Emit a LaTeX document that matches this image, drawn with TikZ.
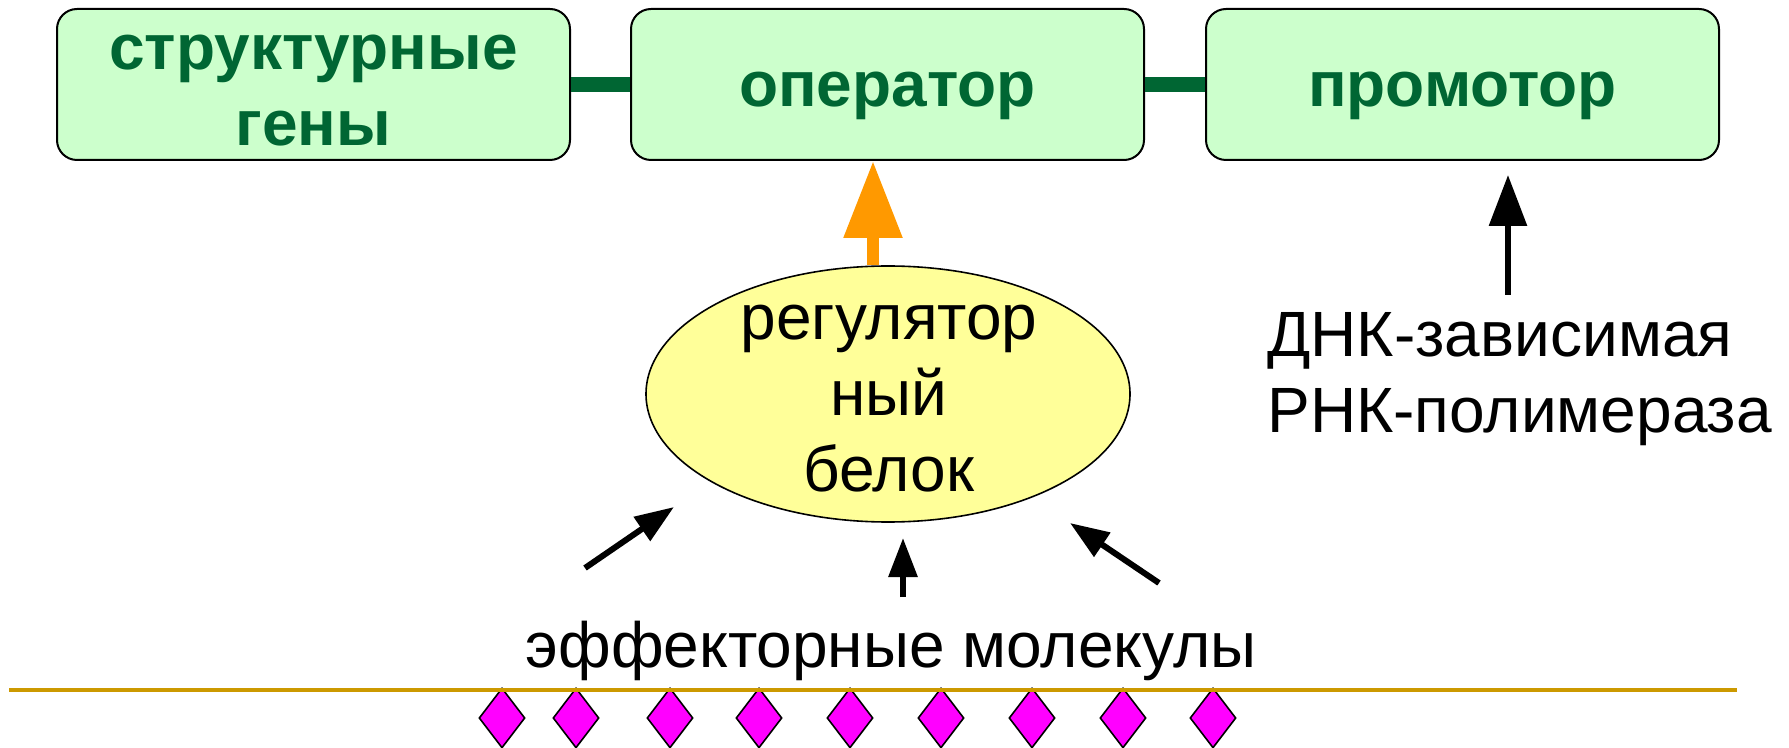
\documentclass[tikz,border=0pt]{standalone}
\usepackage{fontspec}
\setmainfont{Liberation Sans}
\usetikzlibrary{shapes.geometric,arrows.meta}
\definecolor{boxfill}{HTML}{CCFFCC}
\definecolor{boxtext}{HTML}{006633}
\definecolor{ellfill}{HTML}{FFFF99}
\definecolor{orangearr}{HTML}{FF9900}
\definecolor{goldline}{HTML}{CC9900}
\definecolor{magenta2}{HTML}{FF00FF}
\begin{document}
\begin{tikzpicture}[x=0.5pt,y=-0.5pt,
  genebox/.style={draw=black, line width=1pt, fill=boxfill, rounded corners=10pt,
    minimum width=256.5pt, minimum height=75.5pt, inner sep=0pt, align=center,
    text=boxtext, font=\fontsize{32}{38}\selectfont\bfseries},
  link/.style={draw=boxtext, line width=7.5pt},
  regell/.style={draw=black, line width=0.8pt, fill=ellfill, ellipse,
    minimum width=242pt, minimum height=128pt, inner sep=0pt},
  plaintext/.style={inner sep=0pt, font=\fontsize{32}{38}\selectfont},
  orangearrow/.style={draw=orangearr, line width=6pt, -{Triangle[length=38.5pt,width=28pt]}},
  bigarrow/.style={draw=black, line width=3pt, -{Triangle[length=25.5pt,width=18.5pt]}},
  smallarrow/.style={draw=black, line width=3pt, -{Triangle[length=19.5pt,width=14pt]}},
  molecule/.style={diamond, draw=black, line width=0.8pt, fill=magenta2,
    minimum width=23pt, minimum height=30pt, inner sep=0pt}
]
\useasboundingbox (0,0) rectangle (1789,748);

% gene boxes
\node[genebox, text height=61.5pt, text depth=0pt] (struct) at (313.5,84.5) {структурные\\гены};
\node[genebox, text height=22.5pt, text depth=0pt] (oper) at (887.5,84.5) {оператор};
\node[genebox, text height=22.5pt, text depth=0pt] (prom) at (1462.5,84.5) {промотор};
\draw[link] (struct.east) -- (oper.west);
\draw[link] (oper.east) -- (prom.west);

% regulator protein
\node[regell] (reg) at (888,394) {};
\node[plaintext, align=center, text height=100pt, text depth=0pt] (regt) at (889,392) {регулятор\\ный\\белок};
\draw[orangearrow] ([xshift=-7.5pt]reg.north) -- ([xshift=-7.25pt]oper.south);

% polymerase
\node[plaintext, align=left, anchor=north west] (pol) at (1267,312) {ДНК-зависимая\\РНК-полимераза};
\coordinate (poltip) at (1508,175);
\draw[bigarrow] (pol.north -| poltip) ++(0,-17) -- (poltip);

% effector molecules
\node[plaintext, anchor=base] (eff) at (891,667) {эффекторные молекулы};
\coordinate (la) at (585,568); \coordinate (lb) at (674,507);
\coordinate (ca) at (903,597); \coordinate (cb) at (903,538);
\coordinate (ra) at (1159,583); \coordinate (rb) at (1070,523);
\draw[smallarrow] (la) -- (lb);
\draw[smallarrow] (ca) -- (cb);
\draw[smallarrow] (ra) -- (rb);

% membrane and molecules
\foreach \i/\x in {1/502,2/576,3/670,4/759,5/850,6/941,7/1032,8/1123,9/1213}
  \node[molecule] (m\i) at (\x,718) {};
\coordinate (mleft) at (9,690);
\coordinate (mright) at (1737,690);
\draw[goldline, line width=2pt] (mleft) -- (mright);
\end{tikzpicture}
\end{document}
